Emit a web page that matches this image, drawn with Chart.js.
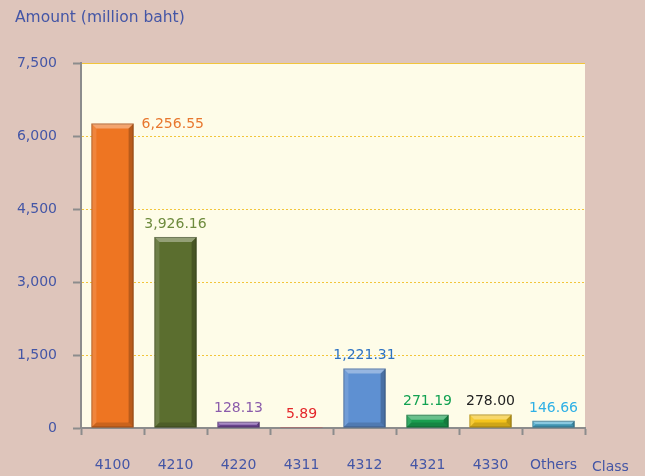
<!DOCTYPE html>
<html>
<head>
<meta charset="utf-8">
<script src="https://cdn.jsdelivr.net/npm/chart.js@4"></script>
<style>
  html, body { margin: 0; padding: 0; background: #dec5bb; }
  #wrap { width: 645px; height: 476px; }
</style>
</head>
<body>
<div id="wrap"><canvas id="classChart" width="645" height="476"></canvas></div>
<script>
// data
const classes = ['4100', '4210', '4220', '4311', '4312', '4321', '4330', 'Others'];
const amounts = [6256.55, 3926.16, 128.13, 5.89, 1221.31, 271.19, 278.00, 146.66];
const amountLabels = ['6,256.55', '3,926.16', '128.13', '5.89', '1,221.31', '271.19', '278.00', '146.66'];
const yTicks = [0, 1500, 3000, 4500, 6000, 7500];

const barColors = ['#ee7522', '#5b6e2f', '#7b4fa6', '#e0282c', '#5e90d2', '#199e4f', '#f4c41c', '#4badcf'];
const labelColors = ['#e8772e', '#6e8b3d', '#8b5cab', '#e4262a', '#2d72c2', '#12a252', '#222222', '#2fb0e6'];

const axisBlue = '#4456a6';
const fontFam = '"DejaVu Sans", Verdana, sans-serif';

// background + plot area fill
const backdrop = {
    id: 'backdrop',
    beforeDraw(chart) {
        const { ctx, chartArea } = chart;
        ctx.save();
        ctx.fillStyle = '#dec5bb';
        ctx.fillRect(0, 0, chart.width, chart.height);
        ctx.fillStyle = '#fefce8';
        ctx.fillRect(chartArea.left, chartArea.top, chartArea.right - chartArea.left, chartArea.bottom - chartArea.top);
        // solid top border of plot area
        ctx.strokeStyle = '#f2c53a';
        ctx.lineWidth = 1;
        ctx.beginPath();
        ctx.moveTo(chartArea.left, chartArea.top + 0.5);
        ctx.lineTo(chartArea.right, chartArea.top + 0.5);
        ctx.stroke();
        ctx.restore();
    }
};

// bevel shading on top of each bar
const bevel = {
    id: 'bevel',
    afterDatasetsDraw(chart) {
        const ctx = chart.ctx;
        const bars = chart.getDatasetMeta(0).data;
        ctx.save();
        bars.forEach((bar) => {
            const l = bar.x - bar.width / 2, r = bar.x + bar.width / 2;
            const t = bar.y, b = bar.base;
            const h = b - t;
            if (h < 1) return;
            const e = Math.min(5, h / 2);
            // top bevel light
            ctx.fillStyle = 'rgba(255,255,255,0.35)';
            ctx.beginPath();
            ctx.moveTo(l, t); ctx.lineTo(r, t); ctx.lineTo(r - e, t + e); ctx.lineTo(l + e, t + e);
            ctx.closePath(); ctx.fill();
            // left edge slightly light
            ctx.fillStyle = 'rgba(255,255,255,0.12)';
            ctx.beginPath();
            ctx.moveTo(l, t); ctx.lineTo(l + e, t + e); ctx.lineTo(l + e, b - e); ctx.lineTo(l, b);
            ctx.closePath(); ctx.fill();
            // right edge dark
            ctx.fillStyle = 'rgba(0,0,0,0.22)';
            ctx.beginPath();
            ctx.moveTo(r, t); ctx.lineTo(r - e, t + e); ctx.lineTo(r - e, b - e); ctx.lineTo(r, b);
            ctx.closePath(); ctx.fill();
            // bottom edge dark
            ctx.fillStyle = 'rgba(0,0,0,0.15)';
            ctx.beginPath();
            ctx.moveTo(l, b); ctx.lineTo(l + e, b - e); ctx.lineTo(r - e, b - e); ctx.lineTo(r, b);
            ctx.closePath(); ctx.fill();
            // outline
            ctx.strokeStyle = 'rgba(0,0,0,0.25)';
            ctx.lineWidth = 1;
            ctx.strokeRect(l + 0.5, t + 0.5, r - l - 1, h - 1);
        });
        ctx.restore();
    }
};

// value labels, axis titles
const labels = {
    id: 'labels',
    afterDraw(chart) {
        const ctx = chart.ctx;
        const bars = chart.getDatasetMeta(0).data;
        ctx.save();
        ctx.font = '14px ' + fontFam;
        ctx.textBaseline = 'bottom';
        bars.forEach((bar, i) => {
            ctx.fillStyle = labelColors[i];
            if (i === 0) {
                ctx.textAlign = 'left';
                ctx.fillText(amountLabels[i], bar.x + bar.width / 2 + 8, bar.y + 8);
            } else {
                ctx.textAlign = 'center';
                ctx.fillText(amountLabels[i], bar.x, bar.y - 6);
            }
        });
        ctx.fillStyle = axisBlue;
        ctx.textBaseline = 'middle';
        ctx.textAlign = 'left';
        ctx.fillText('Class', 592, 467);
        ctx.font = '15.5px ' + fontFam;
        ctx.fillText('Amount (million baht)', 15, 18);
        ctx.restore();
    }
};

new Chart(document.getElementById('classChart'), {
    type: 'bar',
    data: {
        labels: classes,
        datasets: [{
            data: amounts,
            backgroundColor: barColors,
            borderWidth: 0,
            barPercentage: 0.67,
            categoryPercentage: 1.0
        }]
    },
    options: {
        responsive: false,
        animation: false,
        layout: { padding: { top: 63, right: 60, left: 0, bottom: 0 } },
        plugins: {
            legend: { display: false },
            tooltip: { enabled: false }
        },
        scales: {
            x: {
                grid: {
                    drawOnChartArea: false,
                    tickColor: '#8c8c8c',
                    tickLength: 7,
                    tickWidth: 2
                },
                border: { color: '#8c8c8c', width: 2 },
                ticks: {
                    color: axisBlue,
                    font: { family: fontFam, size: 14 },
                    padding: 22,
                    maxRotation: 0
                },
                afterFit(scale) { scale.height = 48; }
            },
            y: {
                min: 0,
                max: 7500,
                afterBuildTicks(scale) { scale.ticks = yTicks.map(v => ({ value: v })); },
                grid: {
                    color: (c) => c.tick && c.tick.value === 0 ? 'rgba(0,0,0,0)' : '#f2c53a',
                    tickColor: '#8c8c8c',
                    tickLength: 8,
                    tickWidth: 2,
                    tickBorderDash: []
                },
                border: { color: '#8c8c8c', width: 2, dash: [2, 2] },
                ticks: {
                    color: axisBlue,
                    font: { family: fontFam, size: 14 },
                    padding: 16,
                    callback: (v) => v.toLocaleString('en-US')
                },
                afterFit(scale) { scale.width = 81; }
            }
        }
    },
    plugins: [backdrop, bevel, labels]
});
</script>
</body>
</html>
